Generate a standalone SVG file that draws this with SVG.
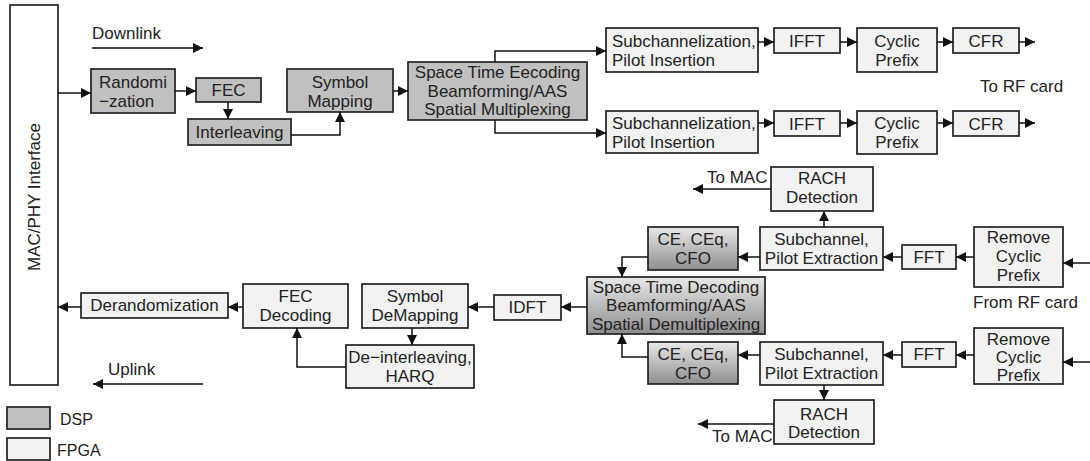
<svg xmlns="http://www.w3.org/2000/svg" width="1090" height="461" viewBox="0 0 1090 461">
<style>
.b{stroke:#222;stroke-width:1.7}
.dsp{fill:#c0c0c0}
.fpga{fill:#f2f2f2}
.grad{fill:url(#g)}
text{font-family:"Liberation Sans",Arial,sans-serif;font-size:17px;fill:#222}
.c{text-anchor:middle}
.lg{font-size:16px}
.cn path{fill:none;stroke:#111;stroke-width:1.5;marker-end:url(#a)}
</style>
<defs>
<linearGradient id="g" x1="0" y1="0" x2="0" y2="1">
<stop offset="0" stop-color="#e8e8e8"/>
<stop offset="1" stop-color="#8e8e8e"/>
</linearGradient>
<marker id="a" viewBox="0 0 10 10" refX="10" refY="5" markerWidth="10" markerHeight="10" markerUnits="userSpaceOnUse" orient="auto">
<path d="M0,0 L10,5 L0,10 z" fill="#111"/>
</marker>
</defs>
<rect width="1090" height="461" fill="#fff"/>

<g id="mac"><rect class="b" x="10" y="5" width="48" height="380" fill="#fff"/>
<text class="c" transform="translate(40,197) rotate(-90)">MAC/PHY Interface</text></g>

<g id="downlink-label"><text x="92" y="39">Downlink</text></g>
<g id="uplink-label"><text x="108" y="375">Uplink</text></g>

<g id="rand"><rect class="b dsp" x="91" y="69" width="84" height="44"/><text x="99" y="88">Randomi</text><text x="99" y="107">−zation</text></g>
<g id="fec"><rect class="b dsp" x="196" y="78" width="65" height="24"/><text class="c" x="228.5" y="96">FEC</text></g>
<g id="interleave"><rect class="b dsp" x="188" y="119" width="103" height="26"/><text class="c" x="239.5" y="138">Interleaving</text></g>
<g id="symmap"><rect class="b dsp" x="287" y="69" width="106" height="43"/><text class="c" x="340" y="88">Symbol</text><text class="c" x="340" y="107">Mapping</text></g>
<g id="ste"><rect class="b dsp" x="408" y="62" width="179" height="58"/><text class="c" x="497.5" y="78">Space Time Eecoding</text><text class="c" x="497.5" y="97">Beamforming/AAS</text><text class="c" x="497.5" y="115">Spatial Multiplexing</text></g>

<g id="subch1"><rect class="b fpga" x="606" y="28" width="152" height="44"/><text x="612" y="47">Subchannelization,</text><text x="612" y="66">Pilot Insertion</text></g>
<g id="ifft1"><rect class="b fpga" x="774" y="28" width="66" height="25"/><text class="c" x="807" y="47">IFFT</text></g>
<g id="cp1"><rect class="b fpga" x="857" y="28" width="80" height="44"/><text class="c" x="897" y="47">Cyclic</text><text class="c" x="897" y="66">Prefix</text></g>
<g id="cfr1"><rect class="b fpga" x="953" y="28" width="66" height="25"/><text class="c" x="986" y="47">CFR</text></g>

<g id="subch2"><rect class="b fpga" x="606" y="111" width="152" height="42"/><text x="612" y="129">Subchannelization,</text><text x="612" y="148">Pilot Insertion</text></g>
<g id="ifft2"><rect class="b fpga" x="774" y="111" width="66" height="25"/><text class="c" x="807" y="130">IFFT</text></g>
<g id="cp2"><rect class="b fpga" x="857" y="111" width="80" height="43"/><text class="c" x="897" y="129">Cyclic</text><text class="c" x="897" y="148">Prefix</text></g>
<g id="cfr2"><rect class="b fpga" x="953" y="111" width="66" height="25"/><text class="c" x="986" y="130">CFR</text></g>
<g id="to-rf"><text x="980" y="92">To RF card</text></g>

<g id="rach1"><rect class="b fpga" x="771" y="167" width="102" height="44"/><text class="c" x="822" y="184">RACH</text><text class="c" x="822" y="203">Detection</text></g>
<g id="tomac1"><text x="707" y="183">To MAC</text></g>
<g id="pe1"><rect class="b fpga" x="760" y="227" width="123" height="43"/><text class="c" x="821.5" y="245">Subchannel,</text><text class="c" x="821.5" y="264">Pilot Extraction</text></g>
<g id="fft1"><rect class="b fpga" x="902" y="245" width="54" height="24"/><text class="c" x="929" y="263">FFT</text></g>
<g id="rcp1"><rect class="b fpga" x="974" y="227" width="89" height="60"/><text class="c" x="1018.5" y="243">Remove</text><text class="c" x="1018.5" y="262">Cyclic</text><text class="c" x="1018.5" y="281">Prefix</text></g>
<g id="ce1"><rect class="b grad" x="648" y="227" width="90" height="43"/><text class="c" x="693" y="245">CE, CEq,</text><text class="c" x="693" y="264">CFO</text></g>
<g id="std"><rect class="b grad" x="587" y="277" width="178" height="57"/><text class="c" x="676" y="293">Space Time Decoding</text><text class="c" x="676" y="311">Beamforming/AAS</text><text class="c" x="676" y="330">Spatial Demultiplexing</text></g>
<g id="from-rf"><text x="973" y="308">From RF card</text></g>

<g id="rcp2"><rect class="b fpga" x="974" y="328" width="89" height="56"/><text class="c" x="1018.5" y="345">Remove</text><text class="c" x="1018.5" y="363">Cyclic</text><text class="c" x="1018.5" y="381">Prefix</text></g>
<g id="fft2"><rect class="b fpga" x="902" y="342" width="54" height="25"/><text class="c" x="929" y="360">FFT</text></g>
<g id="pe2"><rect class="b fpga" x="760" y="342" width="123" height="43"/><text class="c" x="821.5" y="360">Subchannel,</text><text class="c" x="821.5" y="379">Pilot Extraction</text></g>
<g id="ce2"><rect class="b grad" x="648" y="342" width="90" height="42"/><text class="c" x="693" y="360">CE, CEq,</text><text class="c" x="693" y="379">CFO</text></g>
<g id="rach2"><rect class="b fpga" x="774" y="400" width="100" height="44"/><text class="c" x="824" y="420">RACH</text><text class="c" x="824" y="438">Detection</text></g>
<g id="tomac2"><text x="712" y="442">To MAC</text></g>

<g id="idft"><rect class="b fpga" x="494" y="295" width="67" height="25"/><text class="c" x="527.5" y="313">IDFT</text></g>
<g id="sdm"><rect class="b fpga" x="362" y="284" width="106" height="44"/><text class="c" x="415" y="302">Symbol</text><text class="c" x="415" y="321">DeMapping</text></g>
<g id="deint"><rect class="b fpga" x="346" y="345" width="128" height="43"/><text class="c" x="410" y="363">De−interleaving,</text><text class="c" x="410" y="382">HARQ</text></g>
<g id="fecdec"><rect class="b fpga" x="243" y="284" width="105" height="44"/><text class="c" x="295.5" y="302">FEC</text><text class="c" x="295.5" y="321">Decoding</text></g>
<g id="derand"><rect class="b fpga" x="81" y="293" width="147" height="25"/><text class="c" x="154.5" y="311">Derandomization</text></g>

<g id="legend">
<rect class="b dsp" x="7" y="407" width="43" height="22"/><text class="lg" x="60" y="425">DSP</text>
<rect class="b fpga" x="7" y="438" width="43" height="22"/><text class="lg" x="57" y="456">FPGA</text>
</g>

<g id="connectors" class="cn">
<path d="M92,48 H203"/>
<path d="M203,384 H93"/>
<path d="M58,93 H91"/>
<path d="M175,91 H196"/>
<path d="M228,102 V119"/>
<path d="M291,135 H340 V112"/>
<path d="M393,91 H408"/>
<path d="M495,62 V51 H606"/>
<path d="M495,120 V133 H606"/>
<path d="M758,42 H774"/>
<path d="M840,42 H857"/>
<path d="M937,42 H953"/>
<path d="M1019,42 H1035"/>
<path d="M758,123 H774"/>
<path d="M840,123 H857"/>
<path d="M937,123 H953"/>
<path d="M1019,123 H1035"/>
<path d="M1090,263 H1063"/>
<path d="M974,257 H956"/>
<path d="M902,257 H883"/>
<path d="M760,257 H738"/>
<path d="M824,227 V211"/>
<path d="M771,189 H693"/>
<path d="M648,257 H622 V277"/>
<path d="M1090,362 H1063"/>
<path d="M974,355 H956"/>
<path d="M902,355 H883"/>
<path d="M760,355 H738"/>
<path d="M824,385 V400"/>
<path d="M774,424 H698"/>
<path d="M648,357 H622 V334"/>
<path d="M587,307 H561"/>
<path d="M494,307 H468"/>
<path d="M412,328 V345"/>
<path d="M346,367 H297 V328"/>
<path d="M243,307 H228"/>
<path d="M81,307 H58"/>
</g>
</svg>
